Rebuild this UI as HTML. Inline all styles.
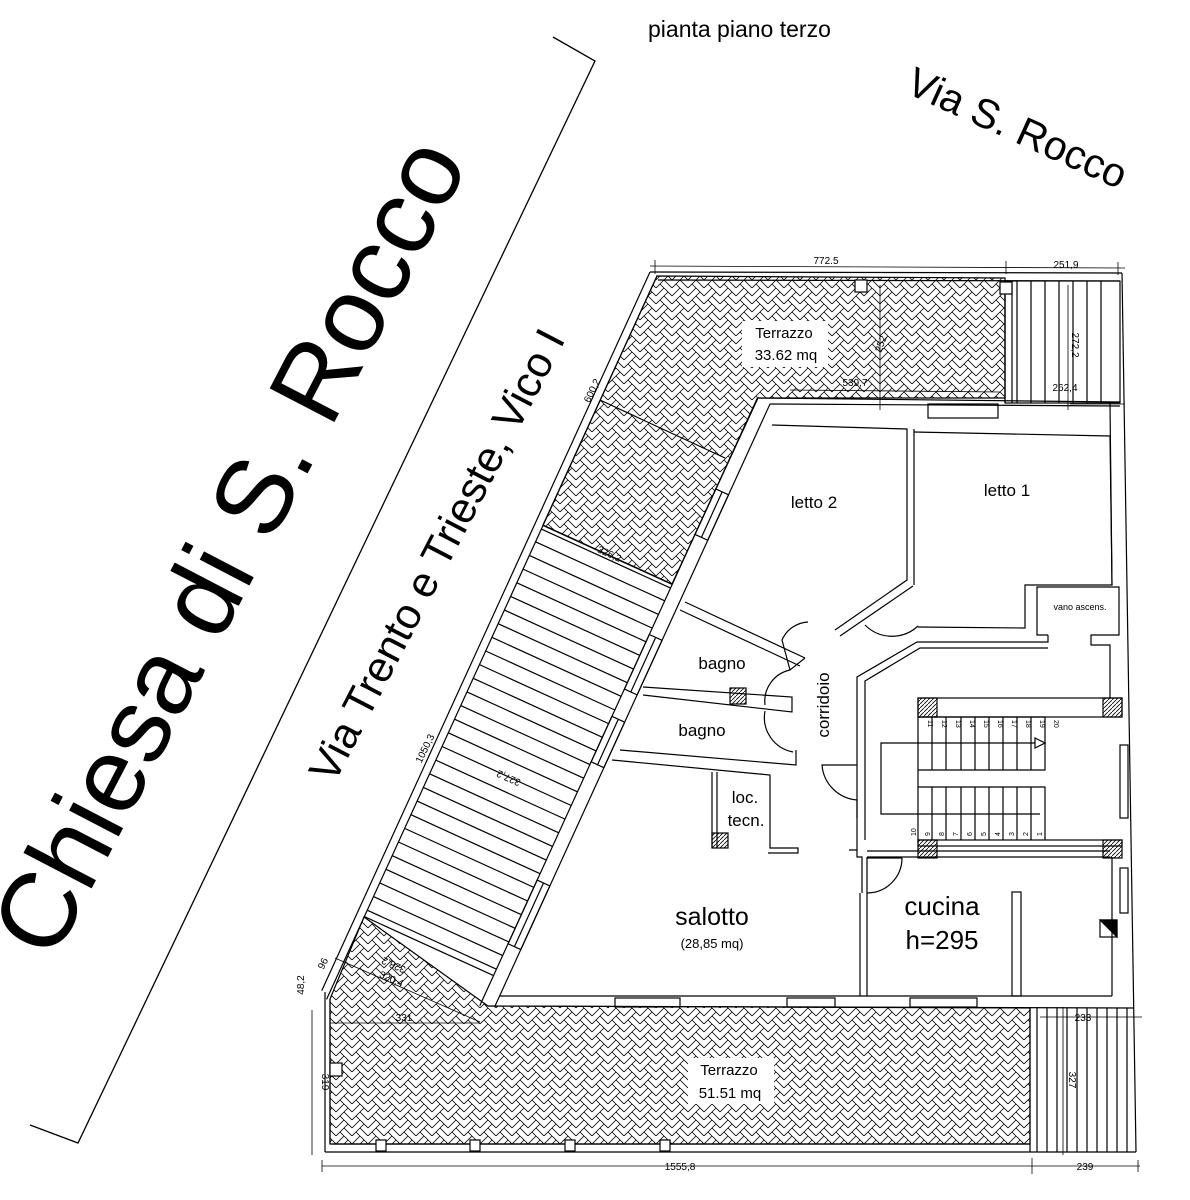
<!DOCTYPE html>
<html><head><meta charset="utf-8"><style>
html,body{margin:0;padding:0;background:#fff;}
svg{display:block;font-family:"Liberation Sans",sans-serif;}
</style></head><body>
<svg width="1190" height="1200" viewBox="0 0 1190 1200" xmlns="http://www.w3.org/2000/svg">
<defs>
<pattern id="hb" width="16" height="16" patternUnits="userSpaceOnUse">
<path d="M0,8 L8,0 M0,16 L8,8 M8,0 L16,8 M8,8 L16,16 M4,12 L8,16 M12,4 L8,8" stroke="#000" stroke-width="0.8" fill="none"/>
</pattern>
<pattern id="ph" width="4" height="4" patternUnits="userSpaceOnUse">
<path d="M0,4 L4,0" stroke="#000" stroke-width="0.8"/>
</pattern>
</defs>

<polyline points="553,37 595,61 78,1143 30,1125" fill="none" stroke="#000" stroke-width="1.3"/>

<text x="648" y="37" font-size="23">pianta piano terzo</text>
<text transform="translate(904,92) rotate(24.4)" font-size="41">Via S. Rocco</text>
<text transform="translate(261,563) rotate(-62.5)" font-size="106" text-anchor="middle">Chiesa di S. Rocco</text>
<text transform="translate(450,562) rotate(-62.5)" font-size="43" text-anchor="middle">Via Trento e Trieste, Vico I</text>

<g stroke="#000" stroke-width="1.2" fill="none">
<polygon points="657,276 1005,278 1005,398 758,398 672,584 543,525" fill="url(#hb)"/>
<polygon points="364,917 488,1006 1030,1008 1030,1144 330,1144 330,999" fill="url(#hb)"/>

<line x1="650" y1="272" x2="1122" y2="273"/>
<line x1="658" y1="280" x2="1120" y2="281"/>
<rect x="1005" y="281" width="115" height="122"/>
<g>
<line x1="1017" y1="281" x2="1017" y2="403"/><line x1="1031" y1="281" x2="1031" y2="403"/>
<line x1="1045" y1="281" x2="1045" y2="403"/><line x1="1059" y1="281" x2="1059" y2="403"/>
<line x1="1073" y1="281" x2="1073" y2="403"/><line x1="1087" y1="281" x2="1087" y2="403"/>
<line x1="1101" y1="281" x2="1101" y2="403"/>
</g>
<line x1="1005" y1="281" x2="1005" y2="403"/>
<line x1="1012" y1="281" x2="1012" y2="403"/>
<line x1="1122" y1="273" x2="1136" y2="1152"/>
<line x1="1110" y1="403" x2="1112" y2="585"/>
<line x1="758" y1="398" x2="1120" y2="402"/>
<line x1="770" y1="404" x2="1120" y2="406"/>
<rect x="928" y="404" width="70" height="14"/>

<g transform="translate(650,272) rotate(114.55)">
<line x1="0" y1="0" x2="790" y2="0"/>
<line x1="0" y1="-8" x2="796" y2="-8"/>
<line x1="70" y1="-150" x2="738" y2="-150"/>
<line x1="70" y1="-164" x2="732" y2="-164"/>
<line x1="275" y1="-8" x2="275" y2="-150"/>
<line x1="279" y1="-8" x2="279" y2="-150"/>
<line x1="293" y1="-8" x2="293" y2="-150"/><line x1="308" y1="-8" x2="308" y2="-150"/>
<line x1="323" y1="-8" x2="323" y2="-150"/><line x1="338" y1="-8" x2="338" y2="-150"/>
<line x1="353" y1="-8" x2="353" y2="-150"/><line x1="368" y1="-8" x2="368" y2="-150"/>
<line x1="383" y1="-8" x2="383" y2="-150"/><line x1="398" y1="-8" x2="398" y2="-150"/>
<line x1="413" y1="-8" x2="413" y2="-150"/><line x1="428" y1="-8" x2="428" y2="-150"/>
<line x1="443" y1="-8" x2="443" y2="-150"/><line x1="458" y1="-8" x2="458" y2="-150"/>
<line x1="473" y1="-8" x2="473" y2="-150"/><line x1="488" y1="-8" x2="488" y2="-150"/>
<line x1="503" y1="-8" x2="503" y2="-150"/><line x1="518" y1="-8" x2="518" y2="-150"/>
<line x1="533" y1="-8" x2="533" y2="-150"/><line x1="548" y1="-8" x2="548" y2="-150"/>
<line x1="563" y1="-8" x2="563" y2="-150"/><line x1="578" y1="-8" x2="578" y2="-150"/>
<line x1="593" y1="-8" x2="593" y2="-150"/><line x1="608" y1="-8" x2="608" y2="-150"/>
<line x1="623" y1="-8" x2="623" y2="-150"/><line x1="638" y1="-8" x2="638" y2="-150"/>
<line x1="653" y1="-8" x2="653" y2="-150"/><line x1="668" y1="-8" x2="668" y2="-150"/>
<line x1="683" y1="-8" x2="683" y2="-150"/><line x1="698" y1="-8" x2="698" y2="-150"/>
<line x1="705" y1="-8" x2="705" y2="-150"/>
<rect x="330" y="-164" width="60" height="14"/><line x1="330" y1="-157" x2="390" y2="-157"/>
<rect x="420" y="-164" width="50" height="14"/><line x1="420" y1="-157" x2="470" y2="-157"/>
<rect x="600" y="-164" width="70" height="14"/><line x1="600" y1="-157" x2="670" y2="-157"/>
<rect x="170" y="-164" width="50" height="14"/><line x1="170" y1="-157" x2="220" y2="-157"/>
</g>
<line x1="600" y1="400" x2="725" y2="458"/>

<line x1="325" y1="992" x2="325" y2="1152"/>
<line x1="325" y1="1152" x2="1136" y2="1152"/>
<line x1="332" y1="1144" x2="1030" y2="1144"/>
<line x1="330" y1="999" x2="330" y2="1144"/>
<line x1="1030" y1="1008" x2="1030" y2="1152"/><line x1="1037" y1="1008" x2="1037" y2="1152"/>
<line x1="1047" y1="1008" x2="1047" y2="1152"/><line x1="1057" y1="1008" x2="1057" y2="1152"/>
<line x1="1067" y1="1008" x2="1067" y2="1152"/><line x1="1077" y1="1008" x2="1077" y2="1152"/>
<line x1="1087" y1="1008" x2="1087" y2="1152"/><line x1="1097" y1="1008" x2="1097" y2="1152"/>
<line x1="1107" y1="1008" x2="1107" y2="1152"/><line x1="1117" y1="1008" x2="1117" y2="1152"/>
<line x1="1127" y1="1008" x2="1127" y2="1152"/>
<line x1="500" y1="996" x2="1112" y2="996"/>
<line x1="488" y1="1006" x2="1133" y2="1008"/>
<rect x="615" y="998" width="65" height="9"/><rect x="787" y="998" width="48" height="9"/><rect x="910" y="998" width="67" height="9"/>
<rect x="855" y="280" width="12" height="12" fill="#fff"/>
<rect x="1000" y="282" width="12" height="12" fill="#fff"/>
<rect x="376" y="1140" width="10" height="11" fill="#fff"/>
<rect x="470" y="1140" width="10" height="11" fill="#fff"/>
<rect x="565" y="1140" width="10" height="11" fill="#fff"/>
<rect x="660" y="1140" width="10" height="11" fill="#fff"/>
<rect x="330" y="1063" width="12" height="13" fill="#fff"/>

<polyline points="772,425 907,429 907,580 835,630"/>
<polyline points="914,429 914,585"/>
<line x1="840" y1="636" x2="913" y2="586"/>
<polyline points="914,432 1110,436 1112,585 1025,585 1025,628 918,627"/>
<path d="M865,625 A38,38 0 0 0 918,626"/>
<polyline points="1048,635 1037,635 1037,587 1119,587 1119,635 1091,635 1091,645 1110,645 1110,698"/>
<text x="1080" y="610" font-size="9" text-anchor="middle" stroke="none" fill="#000">vano ascens.</text>
<polyline points="1048,635 1048,642 917,642 857,677 857,850"/>
<polyline points="1048,648 920,648 865,681 865,840"/>
<rect x="918" y="698" width="204" height="19"/>
<rect x="918" y="698" width="19" height="19" fill="url(#ph)"/>
<rect x="1103" y="698" width="19" height="19" fill="url(#ph)"/>
<rect x="918" y="840" width="204" height="6"/>
<rect x="918" y="840" width="19" height="18" fill="url(#ph)"/>
<rect x="1103" y="840" width="19" height="18" fill="url(#ph)"/>
<polyline points="918,717 1045,717 1045,770 918,770"/>
<polyline points="918,787 1045,787 1045,840"/>
<line x1="918" y1="717" x2="918" y2="840"/>
<g>
<line x1="932" y1="717" x2="932" y2="770"/><line x1="946" y1="717" x2="946" y2="770"/><line x1="961" y1="717" x2="961" y2="770"/>
<line x1="975" y1="717" x2="975" y2="770"/><line x1="989" y1="717" x2="989" y2="770"/><line x1="1003" y1="717" x2="1003" y2="770"/>
<line x1="1017" y1="717" x2="1017" y2="770"/><line x1="1031" y1="717" x2="1031" y2="770"/>
<line x1="932" y1="787" x2="932" y2="840"/><line x1="946" y1="787" x2="946" y2="840"/><line x1="961" y1="787" x2="961" y2="840"/>
<line x1="975" y1="787" x2="975" y2="840"/><line x1="989" y1="787" x2="989" y2="840"/><line x1="1003" y1="787" x2="1003" y2="840"/>
<line x1="1017" y1="787" x2="1017" y2="840"/><line x1="1031" y1="787" x2="1031" y2="840"/>
</g>
<polyline points="1035,743 881,743 881,814 1040,814"/>
<polygon points="1035,738 1045,743 1035,748"/>
<rect x="1120" y="745" width="8" height="73"/>
<rect x="1120" y="868" width="8" height="45"/>
<line x1="685" y1="602" x2="805" y2="658"/>
<line x1="680" y1="610" x2="800" y2="666"/>
<path d="M805,658 L790,670 A32,32 0 0 0 765,705"/>
<path d="M790,670 L782,640 A30,30 0 0 1 808,622"/>
<polyline points="643,687 792,697 792,712 643,695"/>
<rect x="730" y="688" width="16" height="16" fill="url(#ph)"/>
<path d="M765,711 A35,35 0 0 0 793,752"/>
<polyline points="620,750 796,765 796,750"/>
<polyline points="612,760 770,775 770,848 798,848 798,853 768,853"/>
<line x1="712" y1="772" x2="712" y2="848"/><line x1="717" y1="772" x2="717" y2="848"/>
<rect x="712" y="833" width="16" height="15" fill="url(#ph)"/>
<path d="M857,765 L822,765 A38,38 0 0 0 857,800"/>
<polyline points="857,800 857,818"/>
<polyline points="849,850 857,850 857,857 862,857 862,893"/>
<line x1="867" y1="857" x2="867" y2="996"/>
<line x1="860" y1="893" x2="860" y2="996"/>
<line x1="867" y1="851" x2="1110" y2="851"/>
<line x1="867" y1="857" x2="1110" y2="857"/>
<path d="M902,858 A35,35 0 0 1 867,893"/>
<line x1="902" y1="858" x2="867" y2="858"/>
<rect x="1012" y="892" width="9" height="104"/>
<line x1="1112" y1="857" x2="1112" y2="996"/>
<rect x="1100" y="920" width="17" height="17"/>
<polygon points="1100,920 1117,920 1117,937" fill="#000"/>
<line x1="650" y1="266" x2="1125" y2="268" stroke-width="0.8"/>
<line x1="655" y1="260" x2="655" y2="274" stroke-width="0.8"/>
<line x1="1006" y1="261" x2="1006" y2="274" stroke-width="0.8"/>
<line x1="1118" y1="262" x2="1118" y2="275" stroke-width="0.8"/>
<line x1="1125" y1="404" x2="1070" y2="404" stroke-width="0.8"/>
<line x1="1068" y1="285" x2="1068" y2="410" stroke-width="0.8"/>
<line x1="880" y1="285" x2="880" y2="410" stroke-width="0.8"/>
<line x1="790" y1="390" x2="1000" y2="392" stroke-width="0.8"/>
<line x1="322" y1="1166" x2="1032" y2="1166" stroke-width="0.8"/>
<line x1="1032" y1="1166" x2="1140" y2="1166" stroke-width="0.8"/>
<line x1="322" y1="1160" x2="322" y2="1172" stroke-width="0.8"/>
<line x1="1032" y1="1158" x2="1032" y2="1174" stroke-width="0.8"/>
<line x1="1138" y1="1160" x2="1138" y2="1172" stroke-width="0.8"/>
<line x1="1040" y1="1017" x2="1142" y2="1017" stroke-width="0.8"/>
<line x1="1063" y1="1007" x2="1063" y2="1155" stroke-width="0.8"/>
<line x1="312" y1="1010" x2="312" y2="1155" stroke-width="0.8"/>
<line x1="330" y1="1023" x2="480" y2="1023" stroke-width="0.8"/>
<line x1="335" y1="958" x2="480" y2="1022" stroke-width="0.8"/>
</g>

<rect x="742" y="321" width="86" height="46" fill="#fff"/>
<rect x="688" y="1058" width="86" height="46" fill="#fff"/>

<g fill="#000" font-size="17">
<text x="814" y="508" text-anchor="middle">letto 2</text>
<text x="1007" y="496" text-anchor="middle">letto 1</text>
<text x="722" y="669" text-anchor="middle">bagno</text>
<text x="702" y="736" text-anchor="middle">bagno</text>
<text x="745" y="803" text-anchor="middle">loc.</text>
<text x="746" y="826" text-anchor="middle">tecn.</text>
<text transform="translate(829,705) rotate(-90)" text-anchor="middle">corridoio</text>
<text x="712" y="925" font-size="25" text-anchor="middle">salotto</text>
<text x="712" y="948" font-size="13" text-anchor="middle">(28,85 mq)</text>
<text x="942" y="915" font-size="26" text-anchor="middle">cucina</text>
<text x="942" y="949" font-size="26" text-anchor="middle">h=295</text>
<text x="784" y="338" font-size="15" text-anchor="middle">Terrazzo</text>
<text x="786" y="360" font-size="15" text-anchor="middle">33.62 mq</text>
<text x="729" y="1075" font-size="15" text-anchor="middle">Terrazzo</text>
<text x="730" y="1098" font-size="15" text-anchor="middle">51.51 mq</text>
</g>
<g fill="#000" font-size="10">
<text x="826" y="264" text-anchor="middle">772.5</text>
<text x="1066" y="268" text-anchor="middle">251,9</text>
<text x="1065" y="391" text-anchor="middle">262,4</text>
<text x="855" y="386" text-anchor="middle">539,7</text>
<text transform="translate(1072,345) rotate(90)" text-anchor="middle">272,2</text>
<text transform="translate(884,345) rotate(-70)" text-anchor="middle">252</text>
<text transform="translate(595,392) rotate(-64)" text-anchor="middle">600,2</text>
<text transform="translate(428,750) rotate(-64)" text-anchor="middle">1050,3</text>
<text transform="translate(608,557) rotate(24)" text-anchor="middle">326,2</text>
<text transform="translate(510,775) rotate(204)" text-anchor="middle">327,2</text>
<text transform="translate(395,962) rotate(204)" text-anchor="middle">328,2</text>
<text transform="translate(390,982) rotate(24)" text-anchor="middle">320,4</text>
<text x="404" y="1021" text-anchor="middle">331</text>
<text transform="translate(326,965) rotate(-64)" text-anchor="middle">96</text>
<text transform="translate(304,985) rotate(-90)" text-anchor="middle">48,2</text>
<text transform="translate(322,1082) rotate(90)" text-anchor="middle">319</text>
<text x="680" y="1170" text-anchor="middle">1555,8</text>
<text x="1085" y="1170" text-anchor="middle">239</text>
<text x="1083" y="1021" text-anchor="middle">233</text>
<text transform="translate(1069,1080) rotate(90)" text-anchor="middle">327</text>
</g>
<g fill="#000" font-size="7">
<text transform="translate(928,720) rotate(90)">11</text><text transform="translate(942,720) rotate(90)">12</text>
<text transform="translate(956,720) rotate(90)">13</text><text transform="translate(970,720) rotate(90)">14</text>
<text transform="translate(984,720) rotate(90)">15</text><text transform="translate(998,720) rotate(90)">16</text>
<text transform="translate(1012,720) rotate(90)">17</text><text transform="translate(1026,720) rotate(90)">18</text>
<text transform="translate(1040,720) rotate(90)">19</text><text transform="translate(1054,720) rotate(90)">20</text>
<text transform="translate(916,836) rotate(-90)">10</text><text transform="translate(930,836) rotate(-90)">9</text>
<text transform="translate(944,836) rotate(-90)">8</text><text transform="translate(958,836) rotate(-90)">7</text>
<text transform="translate(972,836) rotate(-90)">6</text><text transform="translate(986,836) rotate(-90)">5</text>
<text transform="translate(1000,836) rotate(-90)">4</text><text transform="translate(1014,836) rotate(-90)">3</text>
<text transform="translate(1028,836) rotate(-90)">2</text><text transform="translate(1042,836) rotate(-90)">1</text>
</g>
</svg>
</body></html>
